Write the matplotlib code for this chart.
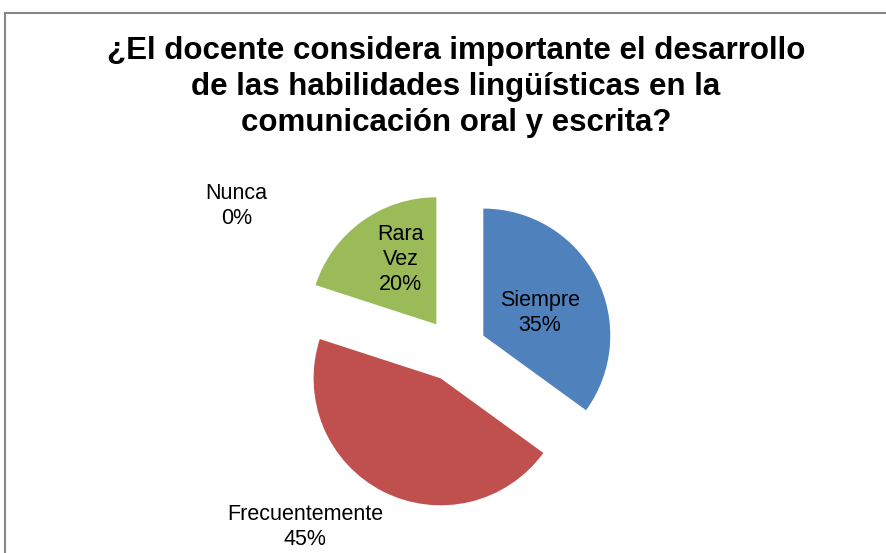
import matplotlib.pyplot as plt
from matplotlib.patches import Rectangle

plt.rcParams['font.family'] = ['Liberation Sans', 'DejaVu Sans']

labels = ['Siempre', 'Frecuentemente', 'Rara\nVez', 'Nunca']
values = [35, 45, 20, 0]
colors = ['#4F81BD', '#C0504D', '#9BBB59', '#8064A2']
title = '¿El docente considera importante el desarrollo\nde las habilidades lingüísticas en la\ncomunicación oral y escrita?'

fig = plt.figure(figsize=(8.87, 5.53), dpi=100)
ax = fig.add_axes([0, 0, 1, 1])

wedges, texts = ax.pie(values, colors=colors, startangle=90, counterclock=False,
                       explode=[0.25, 0.25, 0.25, 0.25], radius=1,
                       labels=[f'{l}\n{v}%' for l, v in zip(labels, values)],
                       labeldistance=0.6,
                       textprops=dict(fontsize=15.5, ha='center', va='center',
                                      color='black', linespacing=1.25))

# label placement like the original (outside for some slices)
label_pos = [(0.67, 0.29), (-1.18, -1.39), (-0.43, 0.71), (-1.72, 1.13)]
for t, p in zip(texts, label_pos):
    t.set_position(p)
    t.set_ha('center')
    t.set_va('center')

ax.set_xlim(-455 / 127, (887 - 455) / 127)
ax.set_ylim((350 - 553) / 127, 350 / 127)
ax.set_aspect('equal', adjustable='box')
ax.axis('off')

fig.text(456 / 887, 1 - 87 / 553, title, ha='center', va='center',
         fontsize=22.5, fontweight='bold', linespacing=1.27)

fig.patches.append(Rectangle((5 / 887, -0.01), 1.0, 1 - 13 / 553 + 0.01,
                             transform=fig.transFigure, fill=False,
                             edgecolor='#878787', linewidth=1.5))

fig.savefig('out.png', dpi=100)
